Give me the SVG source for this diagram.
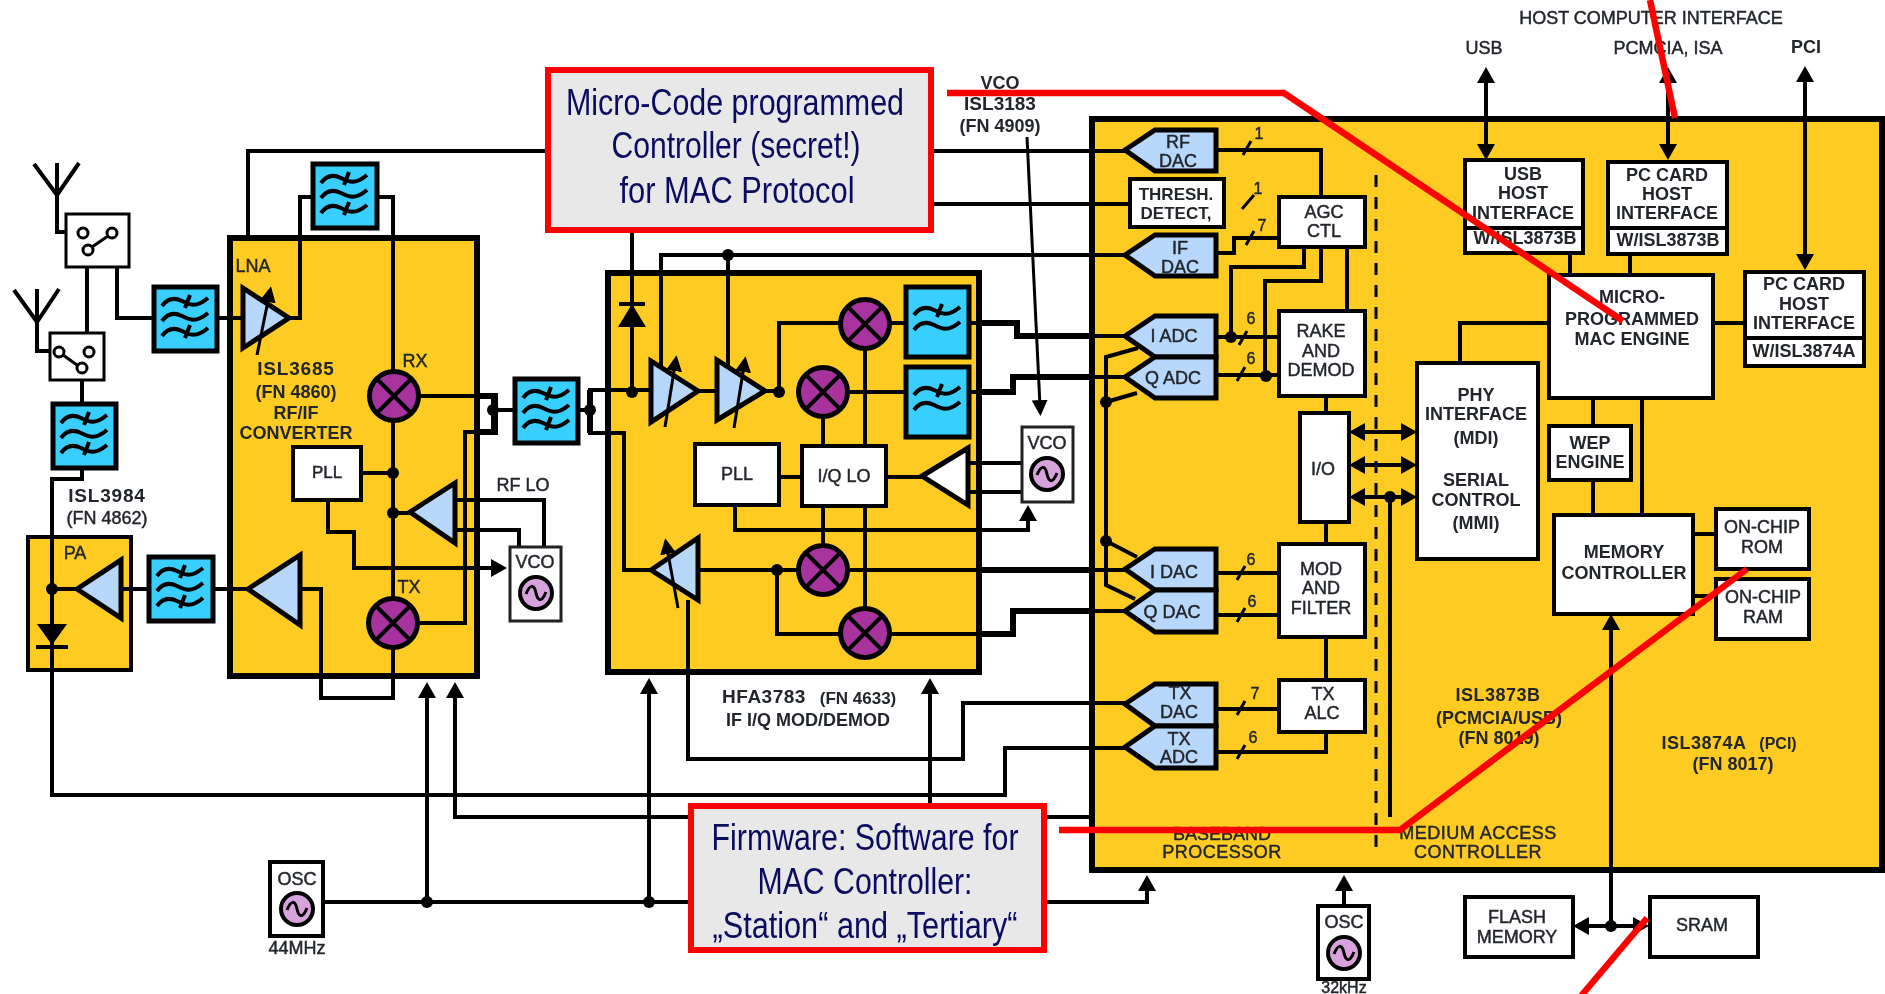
<svg xmlns="http://www.w3.org/2000/svg" xmlns:xlink="http://www.w3.org/1999/xlink" width="1885" height="994" viewBox="0 0 1885 994">
<style>
text{font-family:"Liberation Sans",Arial,sans-serif;text-anchor:middle;fill:#23262c;font-size:18px;stroke:#23262c;stroke-width:.45px}
.b{font-weight:bold;stroke-width:0}
.big{font-size:36px;fill:#0b0b60;font-weight:normal;stroke-width:0}
.chip{fill:#fdcb20;stroke:#000;stroke-width:6}
.box{fill:#fff;stroke:#000;stroke-width:4}
.thin{fill:#fff;stroke:#222;stroke-width:4}
.c{fill:none;stroke:#000;stroke-width:4}
.k{fill:none;stroke:#000;stroke-width:6}
.s{fill:none;stroke:#000;stroke-width:3}
.a{fill:#b8d8fb;stroke:#000;stroke-width:5;stroke-linejoin:miter}
.w{fill:#fff;stroke:#000;stroke-width:5}
.flt{fill:#38cfff;stroke:#000;stroke-width:5}
.red{fill:none;stroke:#f00;stroke-width:6.5}
.rb{fill:#e8e8e8;stroke:#f00;stroke-width:6}
.d{fill:#000}
.aa{marker-start:url(#ah);marker-end:url(#ah)}
</style>
<defs>
<filter id="soft" x="-2%" y="-2%" width="104%" height="104%"><feGaussianBlur stdDeviation="0.7"/></filter>
<marker id="ah" markerUnits="userSpaceOnUse" markerWidth="18" markerHeight="18" viewBox="0 0 16 18" refX="10" refY="9" orient="auto-start-reverse"><path d="M0 0L16 9L0 18z" fill="#000"/></marker>
<marker id="ah2" markerUnits="userSpaceOnUse" markerWidth="16" markerHeight="16" viewBox="0 0 16 16" refX="6" refY="8" orient="auto"><path d="M0 0L16 8L0 16z" fill="#000"/></marker>
<g id="w3"><path class="c" d="M8 19C13 12 20 10 28 14S42 21 54 11M36 8L31 21M8 34C13 27 20 25 28 29S42 36 54 26M8 49C13 42 20 40 28 44S42 51 54 41M36 38L31 51"/></g>
<g id="w2"><path class="c" d="M8 28C13 21 20 19 28 23S42 30 54 20M36 17L31 30M8 43C13 36 20 34 28 38S42 45 54 35"/></g>
<g id="mix"><circle r="24.5" fill="#a8329e" stroke="#000" stroke-width="5"/><path class="c" d="M-18 -18L18 18M-18 18L18 -18"/></g>
<g id="osc"><circle r="16" fill="#d8a2dc" stroke="#000" stroke-width="4"/><path fill="none" stroke="#000" stroke-width="3" d="M-10 1C-6 -9 -2 -9 0 0S6 9 10 -1"/></g>
</defs>
<g filter="url(#soft)">
<g id="chips">
<g id="isl3984"><rect class="chip" x="28" y="537" width="103" height="133" style="stroke-width:4"/><text x="75" y="559" font-size="16">PA</text></g>
<g id="isl3685"><rect class="chip" x="230" y="238" width="247" height="438"/><text x="253" y="272">LNA</text><text x="296" y="375" class="b" style="font-size:19px" letter-spacing=".8">ISL3685</text><text x="296" y="398" class="b">(FN 4860)</text><text x="296" y="419" class="b">RF/IF</text><text x="296" y="439" class="b">CONVERTER</text><text x="415" y="367">RX</text><text x="409" y="593">TX</text></g>
<g id="hfa3783"><rect class="chip" x="608" y="273" width="371" height="399"/></g>
<g id="main-chip"><rect class="chip" x="1092" y="119" width="790" height="751"/>
<text x="1222" y="840">BASEBAND</text><text x="1222" y="858" letter-spacing=".5">PROCESSOR</text><text x="1478" y="839" letter-spacing=".5">MEDIUM ACCESS</text><text x="1478" y="858" letter-spacing=".5">CONTROLLER</text>
<text x="1498" y="701" class="b" letter-spacing=".5">ISL3873B</text><text x="1499" y="724" class="b">(PCMCIA/USB)</text><text x="1499" y="744" class="b">(FN 8019)</text>
<text x="1704" y="749" class="b" letter-spacing=".5">ISL3874A</text><text x="1778" y="749" class="b" style="font-size:16px">(PCI)</text><text x="1733" y="770" class="b">(FN 8017)</text>
<path d="M1376 175V857" fill="none" stroke="#000" stroke-width="3" stroke-dasharray="12 10"/>
<text x="1259" y="139" style="font-size:16px">1</text><text x="1258" y="194" style="font-size:16px">1</text><text x="1262" y="231" style="font-size:16px">7</text><text x="1251" y="324" style="font-size:16px">6</text><text x="1251" y="364" style="font-size:16px">6</text><text x="1251" y="565" style="font-size:16px">6</text><text x="1252" y="607" style="font-size:16px">6</text><text x="1255" y="699" style="font-size:16px">7</text><text x="1253" y="743" style="font-size:16px">6</text>
</g>
</g>
<g id="connectors">
<path class="c" d="M57 163V232H65M34 164L57 195L79 163M37 289V351H50M14 290L37 322L59 289M87 267V332M117 267V318H154M82 380V404M82 468V479H52V795H1005V748H1125M52 589H77M121 589H149M213 589H248M217 318H243"/>
<path class="c" d="M248 235V151H1125M1005 204H632M934 204H1129"/>
<path class="c" d="M313 197H300V318H289M377 197H393V698H321V589H300M393 473H361M393 513H410M328 500V532H354V568H501"/>
<path class="c" d="M420 396H493V432H465V623H419M493 410H515M578 410H590M608 390H590V433H608M608 390H651M608 433H624V570H651"/>
<path class="k" d="M478 396H495V432H478M590 390V433"/>
<path class="c" d="M455 500H544V547M455 530H519V547"/>
<path class="c" d="M632 233V392M661 373V255H1125M728 255V367M698 391H717M765 391H779V323H841M804 392H906M888 323H906"/>
<path class="c" d="M865 350V608M823 418V545M779 477H802M886 477H922M968 463H1022M968 492H1022M735 505V530H1028V516"/>
<path class="c" d="M698 570H798M777 570V634H841M850 570H1125M889 634H1013V611H1125M688 600V759H963V703H1125M455 688V817H1091M969 323H982M969 392H982"/>
<path class="k" d="M982 323H1017V336H1090M982 392H1013V377H1090M982 570H1090M982 634H1013V611H1090"/>
<path class="c" d="M1090 336H1125M1090 377H1125"/>
<path class="c" d="M323 902H1147V881M427 902V688M649 902V684M930 902V684M1344 906V881"/>
<path class="s" d="M1027 137L1040 406" marker-end="url(#ah2)"/>
<g fill="none" stroke="#000" stroke-width="4">
<path marker-end="url(#ah)" d="M427 700V688"/><path marker-end="url(#ah)" d="M455 700V688"/><path marker-end="url(#ah)" d="M649 700V684"/><path marker-end="url(#ah)" d="M930 700V684"/><path marker-end="url(#ah)" d="M1147 900V881"/><path marker-end="url(#ah)" d="M1344 900V881"/><path marker-end="url(#ah)" d="M480 568H501"/><path marker-end="url(#ah)" d="M1028 525V511"/>
<path class="aa" d="M1355 432H1411"/><path class="aa" d="M1355 465H1411"/><path class="aa" d="M1355 497H1411"/>
<path class="aa" d="M1486 73V154"/><path class="aa" d="M1668 73V154"/><path class="aa" d="M1805 72V264"/>
<path marker-end="url(#ah)" d="M1611 926V620"/><path class="aa" d="M1579 926H1643"/>
</g>
<path class="c" d="M1216 150H1321V197M1216 253H1234V238H1278M1304 247V267H1231V337M1321 247V281H1265V376M1347 247V311M1216 337H1278M1216 375H1278M1326 396V413M1326 522V544M1216 573H1278M1216 615H1278M1326 637V680M1216 709H1278M1216 752H1326V732"/>
<path class="c" d="M1138 348L1106 357V585L1135 599M1106 402L1137 393M1106 541L1137 557"/>
<path class="c" d="M1390 497V817M1570 253V275M1630 254V275M1713 323H1744M1549 323H1460V363M1593 398V426M1642 398V515M1593 480V515M1693 534H1716M1693 596H1716"/>
<path class="s" d="M1243 155L1251 141M1242 209L1254 195M1246 245L1254 231M1239 345L1247 331M1237 381L1245 367M1237 580L1245 566M1237 622L1245 608M1237 715L1245 701M1237 759L1245 745"/>
<g class="d"><circle cx="52" cy="589" r="6"/><circle cx="393" cy="473" r="6"/><circle cx="393" cy="513" r="6"/><circle cx="493" cy="410" r="6"/><circle cx="590" cy="410" r="6"/><circle cx="632" cy="392" r="6"/><circle cx="728" cy="255" r="6"/><circle cx="779" cy="392" r="6"/><circle cx="777" cy="570" r="6"/><circle cx="427" cy="902" r="6"/><circle cx="649" cy="902" r="6"/><circle cx="1231" cy="337" r="6"/><circle cx="1266" cy="376" r="6"/><circle cx="1106" cy="402" r="6"/><circle cx="1106" cy="541" r="6"/><circle cx="1390" cy="497" r="6"/><circle cx="1611" cy="926" r="6"/></g>
</g>
<g id="switch1"><rect class="box" x="66" y="214" width="63" height="53" style="stroke-width:3"/><g class="s"><circle cx="83" cy="233" r="5"/><circle cx="112" cy="233" r="5"/><circle cx="88" cy="250" r="5"/><path d="M92 247L108 236"/></g></g>
<g id="switch2"><rect class="box" x="50" y="333" width="54" height="47" style="stroke-width:3"/><g class="s"><circle cx="59" cy="352" r="5"/><circle cx="89" cy="352" r="5"/><circle cx="82" cy="368" r="5"/><path d="M63 355L77 365"/></g></g>
<g id="filter-a" transform="translate(154 287)"><rect class="flt" width="63" height="64"/><use href="#w3" xlink:href="#w3"/></g>
<g id="filter-b" transform="translate(53 404)"><rect class="flt" width="63" height="64"/><use href="#w3" xlink:href="#w3"/></g>
<g id="filter-c" transform="translate(313 164)"><rect class="flt" width="64" height="64"/><use href="#w3" xlink:href="#w3"/></g>
<g id="filter-d" transform="translate(515 379)"><rect class="flt" width="63" height="64"/><use href="#w3" xlink:href="#w3"/></g>
<g id="filter-g" transform="translate(149 557)"><rect class="flt" width="64" height="64"/><use href="#w3" xlink:href="#w3"/></g>
<g id="filter-e" transform="translate(906 287)"><rect class="flt" width="63" height="70"/><use href="#w2" xlink:href="#w2"/></g>
<g id="filter-f" transform="translate(906 367)"><rect class="flt" width="63" height="70"/><use href="#w2" xlink:href="#w2"/></g>
<g id="lna"><polygon class="a" points="243,288 243,348 289,318"/><path class="s" d="M257 355L269 296" marker-end="url(#ah2)"/></g>
<g id="amp-tx"><polygon class="a" points="248,589 300,555 300,625"/></g>
<g id="amp-pa"><polygon class="a" points="77,589 121,560 121,618"/></g>
<g id="amp-lo"><polygon class="a" points="410,512 455,483 455,543"/></g>
<g id="diode-pa"><polygon class="d" points="37,624 67,624 52,645"/><path class="c" d="M36 647H68"/></g>
<g id="diode-hfa"><polygon class="d" points="618,327 646,327 632,304"/><path class="c" d="M619 304H645"/></g>
<g id="amp1"><polygon class="a" points="651,361 651,422 698,391"/><path class="s" d="M665 427L675 365" marker-end="url(#ah2)"/></g>
<g id="amp2"><polygon class="a" points="717,360 717,420 765,391"/><path class="s" d="M734 428L744 366" marker-end="url(#ah2)"/></g>
<g id="amp3"><polygon class="a" points="651,570 698,538 698,600"/><path class="s" d="M678 608L667 548" marker-end="url(#ah2)"/></g>
<g id="amp-vco"><polygon class="w" points="922,476 968,448 968,505"/></g>
<use id="mixer-rx" href="#mix" xlink:href="#mix" x="394" y="396"/>
<use id="mixer-tx" href="#mix" xlink:href="#mix" x="393" y="623"/>
<use id="mixer-1" href="#mix" xlink:href="#mix" x="865" y="324"/>
<use id="mixer-2" href="#mix" xlink:href="#mix" x="823" y="392"/>
<use id="mixer-3" href="#mix" xlink:href="#mix" x="823" y="570"/>
<use id="mixer-4" href="#mix" xlink:href="#mix" x="865" y="633"/>
<g id="pll1"><rect class="box" x="293" y="447" width="68" height="53"/><text x="327" y="478" style="font-size:17px">PLL</text></g>
<g id="pll2"><rect class="box" x="695" y="444" width="84" height="61"/><text x="737" y="480">PLL</text></g>
<g id="iq-lo"><rect class="box" x="802" y="446" width="84" height="60"/><text x="844" y="482">I/Q LO</text></g>
<g id="vco1"><rect class="thin" x="510" y="547" width="51" height="74" style="stroke-width:3"/><text x="535" y="568">VCO</text><use href="#osc" xlink:href="#osc" x="536" y="593"/></g>
<g id="vco2"><rect class="thin" x="1022" y="427" width="51" height="75" style="stroke-width:3"/><text x="1047" y="449">VCO</text><use href="#osc" xlink:href="#osc" x="1047" y="474"/></g>
<g id="osc44"><rect class="box" x="270" y="862" width="53" height="74"/><text x="297" y="885">OSC</text><use href="#osc" xlink:href="#osc" x="297" y="909"/></g>
<g id="osc32"><rect class="box" x="1318" y="906" width="51" height="73"/><text x="1344" y="928">OSC</text><use href="#osc" xlink:href="#osc" x="1344" y="953"/></g>
<g id="rf-dac"><polygon class="a" points="1125,150 1155,130 1216,130 1216,171 1155,171"/><text x="1178" y="148">RF</text><text x="1178" y="167">DAC</text></g>
<g id="thresh"><rect class="box" x="1130" y="179" width="94" height="48"/><text x="1176" y="200" class="b" style="font-size:17px">THRESH.</text><text x="1176" y="219" class="b" style="font-size:17px">DETECT,</text></g>
<g id="if-dac"><polygon class="a" points="1125,255 1155,235 1216,235 1216,276 1155,276"/><text x="1180" y="254">IF</text><text x="1180" y="273">DAC</text></g>
<g id="i-adc"><polygon class="a" points="1125,336 1155,316 1216,316 1216,357 1155,357"/><text x="1174" y="342">I ADC</text></g>
<g id="q-adc"><polygon class="a" points="1125,377 1155,357 1216,357 1216,398 1155,398"/><text x="1173" y="384">Q ADC</text></g>
<g id="i-dac"><polygon class="a" points="1125,569 1155,549 1216,549 1216,590 1155,590"/><text x="1174" y="578">I DAC</text></g>
<g id="q-dac"><polygon class="a" points="1125,611 1155,590 1216,590 1216,632 1155,632"/><text x="1172" y="618">Q DAC</text></g>
<g id="tx-dac"><polygon class="a" points="1125,704 1155,684 1216,684 1216,726 1155,726"/><text x="1180" y="699">TX</text><text x="1179" y="718">DAC</text></g>
<g id="tx-adc"><polygon class="a" points="1125,747 1155,726 1216,726 1216,768 1155,768"/><text x="1179" y="745">TX</text><text x="1179" y="763">ADC</text></g>
<g id="agc"><rect class="box" x="1279" y="197" width="86" height="50"/><text x="1324" y="218">AGC</text><text x="1324" y="237">CTL</text></g>
<g id="rake"><rect class="box" x="1279" y="311" width="86" height="85"/><text x="1321" y="337">RAKE</text><text x="1321" y="357">AND</text><text x="1321" y="376">DEMOD</text></g>
<g id="io"><rect class="box" x="1300" y="413" width="49" height="109"/><text x="1323" y="475">I/O</text></g>
<g id="mod"><rect class="box" x="1279" y="544" width="86" height="93"/><text x="1321" y="575">MOD</text><text x="1321" y="594">AND</text><text x="1321" y="614">FILTER</text></g>
<g id="tx-alc"><rect class="box" x="1279" y="680" width="86" height="52"/><text x="1323" y="700">TX</text><text x="1322" y="719">ALC</text></g>
<g id="phy"><rect class="box" x="1417" y="363" width="121" height="196"/><text x="1476" y="401" class="b">PHY</text><text x="1476" y="420" class="b">INTERFACE</text><text x="1476" y="444" class="b">(MDI)</text><text x="1476" y="486" class="b">SERIAL</text><text x="1476" y="506" class="b">CONTROL</text><text x="1476" y="529" class="b">(MMI)</text></g>
<g id="usb-host"><rect class="box" x="1465" y="160" width="118" height="93"/><path class="c" d="M1465 228H1583"/><text x="1523" y="180" class="b">USB</text><text x="1523" y="199" class="b">HOST</text><text x="1523" y="219" class="b">INTERFACE</text><text x="1525" y="244" class="b">W/ISL3873B</text></g>
<g id="pc-card-1"><rect class="box" x="1608" y="162" width="119" height="92"/><path class="c" d="M1608 228H1727"/><text x="1667" y="181" class="b">PC CARD</text><text x="1667" y="200" class="b">HOST</text><text x="1667" y="219" class="b">INTERFACE</text><text x="1668" y="246" class="b">W/ISL3873B</text></g>
<g id="mac-engine"><rect class="box" x="1549" y="275" width="164" height="123"/><text x="1632" y="303" class="b">MICRO-</text><text x="1632" y="325" class="b">PROGRAMMED</text><text x="1632" y="345" class="b">MAC ENGINE</text></g>
<g id="pc-card-2"><rect class="box" x="1745" y="272" width="119" height="94"/><path class="c" d="M1745 338H1864"/><text x="1804" y="290" class="b">PC CARD</text><text x="1804" y="310" class="b">HOST</text><text x="1804" y="329" class="b">INTERFACE</text><text x="1804" y="357" class="b">W/ISL3874A</text></g>
<g id="wep"><rect class="box" x="1549" y="426" width="82" height="54"/><text x="1590" y="449" class="b">WEP</text><text x="1590" y="468" class="b">ENGINE</text></g>
<g id="memory"><rect class="box" x="1554" y="515" width="139" height="99"/><text x="1624" y="558" class="b">MEMORY</text><text x="1624" y="579" class="b">CONTROLLER</text></g>
<g id="rom"><rect class="box" x="1716" y="509" width="93" height="60"/><text x="1762" y="533">ON-CHIP</text><text x="1762" y="553">ROM</text></g>
<g id="ram"><rect class="box" x="1716" y="579" width="93" height="60"/><text x="1763" y="603">ON-CHIP</text><text x="1763" y="623">RAM</text></g>
<g id="flash"><rect class="box" x="1465" y="897" width="108" height="60"/><text x="1517" y="923">FLASH</text><text x="1517" y="943">MEMORY</text></g>
<g id="sram"><rect class="box" x="1650" y="897" width="108" height="60"/><text x="1702" y="931">SRAM</text></g>
<g id="labels">
<text x="107" y="502" class="b" style="font-size:19px" letter-spacing=".8">ISL3984</text><text x="107" y="524">(FN 4862)</text>
<text x="523" y="491">RF LO</text>
<text x="1000" y="89" class="b">VCO</text><text x="1000" y="110" class="b" style="font-size:19px">ISL3183</text><text x="1000" y="132" class="b">(FN 4909)</text>
<text x="764" y="703" class="b" style="font-size:19px" letter-spacing=".5">HFA3783</text><text x="858" y="704" class="b" style="font-size:17px">(FN 4633)</text><text x="808" y="726" class="b">IF I/Q MOD/DEMOD</text>
<text x="297" y="954">44MHz</text><text x="1344" y="993" style="font-size:16px">32kHz</text>
<text x="1651" y="24">HOST COMPUTER INTERFACE</text><text x="1484" y="54">USB</text><text x="1668" y="54">PCMCIA, ISA</text><text x="1806" y="53" class="b">PCI</text>
</g>
</g>
<g id="box-micro-code"><rect class="rb" x="548" y="70" width="383" height="160"/><text class="big" x="735" y="115" textLength="338" lengthAdjust="spacingAndGlyphs">Micro-Code programmed</text><text class="big" x="736" y="158" textLength="249" lengthAdjust="spacingAndGlyphs">Controller (secret!)</text><text class="big" x="737" y="203" textLength="235" lengthAdjust="spacingAndGlyphs">for MAC Protocol</text></g>
<g id="box-firmware"><rect class="rb" x="691" y="806" width="353" height="144"/><text class="big" x="865" y="850" textLength="307" lengthAdjust="spacingAndGlyphs">Firmware: Software for</text><text class="big" x="865" y="894" textLength="215" lengthAdjust="spacingAndGlyphs">MAC Controller:</text><text class="big" x="865" y="938" textLength="305" lengthAdjust="spacingAndGlyphs">„Station“ and „Tertiary“</text></g>
<g id="red-lines"><path class="red" d="M947 93H1284L1623 321"/><path class="red" d="M1059 830H1400L1747 569"/><path class="red" d="M1581 996L1647 918"/><path class="red" d="M1650 0L1675 118"/></g>
</svg>
